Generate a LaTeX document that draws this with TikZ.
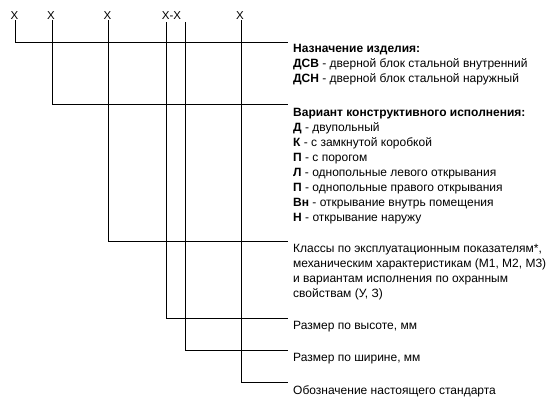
\documentclass[tikz,border=0pt]{standalone}
\usepackage{fontspec}
\setmainfont{Liberation Sans}
\begin{document}
\begin{tikzpicture}[x=1pt,y=-1pt,
  lbl/.style={inner sep=0pt,font=\fontsize{11.5}{15}\selectfont},
  txt/.style={inner sep=0pt,anchor=base west,align=left,font=\fontsize{12}{15}\selectfont},
  ln/.style={line width=1pt}]
\useasboundingbox[fill=white] (0,0) rectangle (559,413);
\node[lbl] (x1) at (14.5,16) {X};
\node[lbl] (x2) at (51,16) {X};
\node[lbl] (x3) at (107.5,16) {X};
\node[lbl] (x4) at (171.5,16) {X-X};
\node[lbl] (x5) at (240,16) {X};
\coordinate (c1) at (15,42);
\coordinate (c2) at (52,104);
\coordinate (c3) at (108,241);
\coordinate (c4) at (166,318);
\coordinate (c5) at (185,350);
\coordinate (c6) at (241,382);
\coordinate (e1) at (288,42);
\coordinate (e2) at (288,104);
\coordinate (e3) at (288,241);
\coordinate (e4) at (288,318);
\coordinate (e5) at (288,350);
\coordinate (e6) at (288,382);
\coordinate (t4) at (166,22);
\coordinate (t5) at (185,22);
\draw[ln] (c1|-x1.south) -- (c1) -- (e1);
\draw[ln] (c2|-x2.south) -- (c2) -- (e2);
\draw[ln] (c3|-x3.south) -- (c3) -- (e3);
\draw[ln] (t4) -- (c4) -- (e4);
\draw[ln] (t5) -- (c5) -- (e5);
\draw[ln] (c6|-x5.south) -- (c6) -- (e6);
\node[txt] (n1) at (293,82) {\textbf{Назначение изделия:}\\
\textbf{ДСВ} - дверной блок стальной внутренний\\
\textbf{ДСН} - дверной блок стальной наружный};
\node[txt] (n2) at (293,221) {\textbf{Вариант конструктивного исполнения:}\\
\textbf{Д} - двупольный\\
\textbf{К} - с замкнутой коробкой\\
\textbf{П} - с порогом\\
\textbf{Л} - однопольные левого открывания\\
\textbf{П} - однопольные правого открывания\\
\textbf{Вн} - открывание внутрь помещения\\
\textbf{Н} - открывание наружу};
\node[txt] (n3) at (293,297) {Классы по эксплуатационным показателям*,\\
механическим характеристикам (М1, М2, М3)\\
и вариантам исполнения по охранным\\
свойствам (У, З)};
\node[txt] (n4) at (293,329) {Размер по высоте, мм};
\node[txt] (n5) at (293,361) {Размер по ширине, мм};
\node[txt] (n6) at (293,394) {Обозначение настоящего стандарта};
\end{tikzpicture}
\end{document}
